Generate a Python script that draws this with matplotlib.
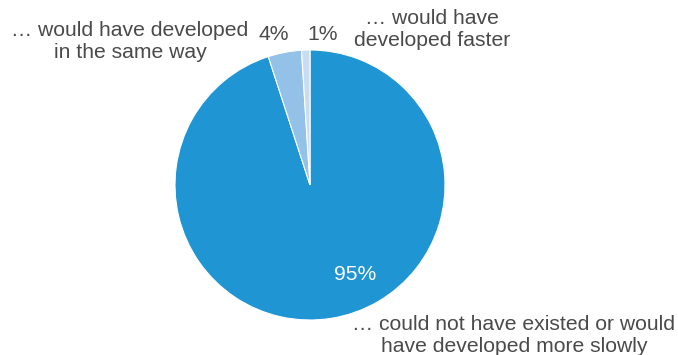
import matplotlib.pyplot as plt

plt.rcParams['font.family'] = ['Liberation Sans', 'DejaVu Sans']

# share of answers, clockwise from 12 o'clock
labels = ['… could not have existed or would\nhave developed more slowly',
          '… would have developed\nin the same way',
          '… would have\ndeveloped faster']
values = [95, 4, 1]
colors = ['#1f95d4', '#93c1e8', '#c8ddf2']

W, H = 678, 355
fig = plt.figure(figsize=(W / 100, H / 100), dpi=100)
cx, cy, r = 310, 185, 135
ax = fig.add_axes([(cx - r) / W, (H - cy - r) / H, 2 * r / W, 2 * r / H])
ax.pie(values, colors=colors, startangle=90, counterclock=False,
       wedgeprops=dict(edgecolor='white', linewidth=0.8))
ax.set_xlim(-1, 1)
ax.set_ylim(-1, 1)
ax.set_aspect('equal')
ax.axis('off')

txt = '#4a4a4a'
def put(x, y, s, **kw):
    fig.text(x / W, 1 - y / H, s, ha='center', va='center', fontsize=15.2,
             linespacing=1.2, **kw)

put(130, 42, labels[1], color=txt)
put(432, 29, labels[2], color=txt)
put(514, 335, labels[0], color=txt)
put(274, 34, f'{values[1]}%', color=txt)
put(323, 34, f'{values[2]}%', color=txt)
put(355, 274, f'{values[0]}%', color='white')

fig.savefig('out.png', dpi=100)
